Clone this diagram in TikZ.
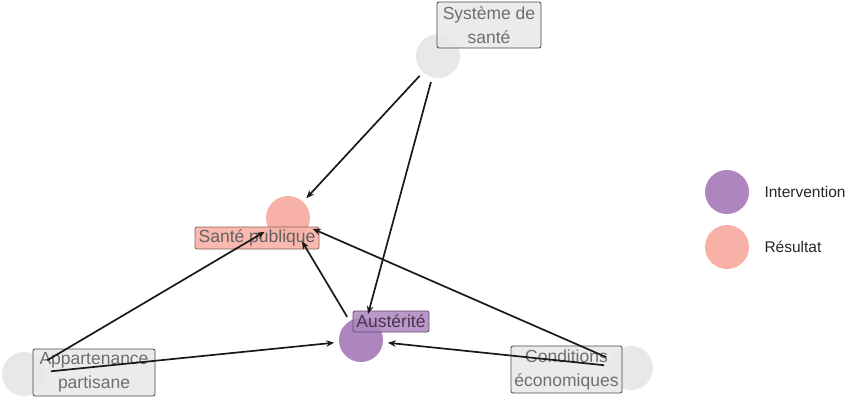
\documentclass[tikz,border=0pt]{standalone}
\usepackage{fontspec}
\setmainfont{Liberation Sans}
\usetikzlibrary{arrows.meta}
\definecolor{nodegray}{HTML}{E8E8E8}
\definecolor{purp}{HTML}{AE86BF}
\definecolor{salmon}{HTML}{F8B1A6}
\definecolor{labgray}{HTML}{6E6E6E}
\begin{document}
\begin{tikzpicture}[x=1pt,y=-1pt,
  dot/.style={circle,inner sep=0pt,minimum size=44pt,draw=none},
  lab/.style={rounded corners=2pt,draw=#1!55!black,line width=0.8pt,inner sep=0pt,
    text=labgray,font=\fontsize{17.5}{24}\selectfont,align=center},
  edge/.style={-{Stealth[length=8pt,width=6.5pt]},line width=1.7pt,draw=black!90,
    shorten <=27pt,shorten >=27pt},
  legtext/.style={anchor=west,font=\fontsize{15.5}{18}\selectfont,text=black!85}]
\useasboundingbox (0,0) rectangle (848,400);
% nodes of the graph
\node[dot,fill=nodegray] (sys) at (438,56) {};
\node[dot,fill=salmon] (sp) at (288,218) {};
\node[dot,fill=purp] (aus) at (361,340) {};
\node[dot,fill=nodegray] (app) at (24,374) {};
\node[dot,fill=nodegray] (ce) at (631,368) {};
% labels
\node[lab=gray,fill=nodegray,fill opacity=0.85,text opacity=1,minimum width=104pt,minimum height=46pt] (sysl) at (489,25) {Système de\\santé};
\node[lab=salmon,fill=salmon,fill opacity=0.9,text opacity=1,text=black!62,minimum width=124pt,minimum height=22pt] (spl) at (257,238) {Santé publique};
\node[lab=purp,fill=purp,fill opacity=0.85,text opacity=1,text=black!60!purp,minimum width=76pt,minimum height=21pt] (ausl) at (391,321.5) {Austérité};
\node[lab=gray,fill=nodegray,fill opacity=0.85,text opacity=1,minimum width=122pt,minimum height=47pt] (appl) at (94,372.5) {Appartenance\\partisane};
\node[lab=gray,fill=nodegray,fill opacity=0.85,text opacity=1,minimum width=111pt,minimum height=47pt] (cel) at (566.5,369.5) {Conditions\\économiques};
% causal edges
\draw[edge] (sys.center) -- (sp.center);
\draw[edge] (sys.center) -- (aus.center);
\draw[edge] (app.center) -- (sp.center);
\draw[edge] (app.center) -- (aus.center);
\draw[edge] (aus.center) -- (sp.center);
\draw[edge] (ce.center) -- (aus.center);
\draw[edge] (ce.center) -- (sp.center);
% legend
\node[dot,fill=purp] (legi) at (727,192) {};
\node[dot,fill=salmon] (legr) at (727,247) {};
\node[legtext] (legit) at (761,192) {Intervention};
\node[legtext] (legrt) at (761,247) {Résultat};
\end{tikzpicture}
\end{document}
